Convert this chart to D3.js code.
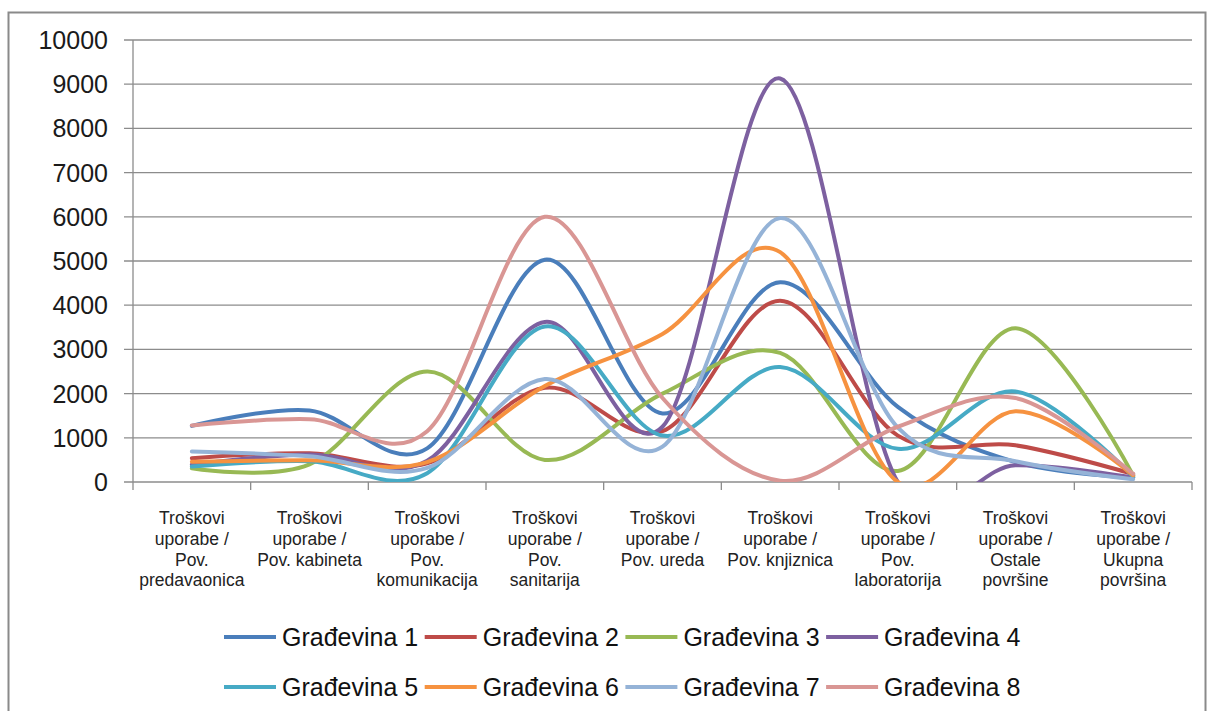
<!DOCTYPE html>
<html>
<head>
<meta charset="utf-8">
<script src="https://cdn.jsdelivr.net/npm/d3@7/dist/d3.min.js"></script>
<style>
  html, body { margin: 0; padding: 0; background: #fff; }
  svg { display: block; }
  text { font-family: "Liberation Sans", Arial, sans-serif; }
</style>
</head>
<body>
<svg id="chart" width="1208" height="711"></svg>
<script>
// ---- data ----
const categories = [
  ["Troškovi", "uporabe /", "Pov.", "predavaonica"],
  ["Troškovi", "uporabe /", "Pov. kabineta"],
  ["Troškovi", "uporabe /", "Pov.", "komunikacija"],
  ["Troškovi", "uporabe /", "Pov.", "sanitarija"],
  ["Troškovi", "uporabe /", "Pov. ureda"],
  ["Troškovi", "uporabe /", "Pov. knjiznica"],
  ["Troškovi", "uporabe /", "Pov.", "laboratorija"],
  ["Troškovi", "uporabe /", "Ostale", "površine"],
  ["Troškovi", "uporabe /", "Ukupna", "površina"]
];
const seriesNames = ["Građevina 1", "Građevina 2", "Građevina 3", "Građevina 4",
                     "Građevina 5", "Građevina 6", "Građevina 7", "Građevina 8"];
const gradevina1 = [1270, 1620, 760, 5030, 1550, 4520, 1700, 450, 100];
const gradevina2 = [540, 650, 420, 2130, 1150, 4100, 1050, 830, 180];
const gradevina3 = [310, 400, 2500, 500, 2000, 2920, 250, 3480, 150];
const gradevina4 = [390, 620, 480, 3620, 1250, 9130, 0, 380, 100];
const gradevina5 = [350, 470, 200, 3520, 1050, 2600, 750, 2050, 120];
const gradevina6 = [460, 490, 450, 2170, 3350, 5200, 0, 1600, 150];
const gradevina7 = [690, 580, 320, 2330, 800, 5970, 1230, 470, 60];
const gradevina8 = [1280, 1420, 1150, 6000, 1900, 30, 1250, 1900, 180];
const yTicks = [0, 1000, 2000, 3000, 4000, 5000, 6000, 7000, 8000, 9000, 10000];

const seriesValues = [gradevina1, gradevina2, gradevina3, gradevina4,
                      gradevina5, gradevina6, gradevina7, gradevina8];
const colors = ["#4A7EBB", "#BE4B48", "#98B954", "#7D60A0",
                "#46AAC5", "#F69240", "#95B3D7", "#D99694"];

// ---- layout ----
const svg = d3.select("#chart");
const plotL = 133, plotR = 1192, plotT = 40, plotB = 482;

// frame
svg.append("rect")
  .attr("x", 8.5).attr("y", 12.5).attr("width", 1197).attr("height", 720)
  .attr("fill", "none").attr("stroke", "#8a8a8a").attr("stroke-width", 2);

const catIdx = categories.map((d, i) => i);
const xBand = d3.scaleBand().domain(catIdx).range([plotL, plotR]).paddingInner(0).paddingOuter(0);
const x = d3.scalePoint().domain(catIdx).range([plotL, plotR]).padding(0.5);
const y = d3.scaleLinear().domain([0, 10000]).range([plotB, plotT]);

// gridlines + y ticks
svg.append("g").selectAll("line").data(yTicks).join("line")
  .attr("x1", plotL - 9).attr("x2", plotR)
  .attr("y1", d => y(d)).attr("y2", d => y(d))
  .attr("stroke", "#8c8c8c").attr("stroke-width", 1.3);

svg.append("g").selectAll("text").data(yTicks).join("text")
  .attr("x", 108).attr("y", d => y(d))
  .attr("dy", "0.36em")
  .attr("text-anchor", "end")
  .attr("font-size", 25)
  .attr("fill", "#1a1a1a")
  .text(d => d);

// y axis line
svg.append("line")
  .attr("x1", plotL).attr("x2", plotL).attr("y1", plotT).attr("y2", plotB)
  .attr("stroke", "#8c8c8c").attr("stroke-width", 1.3);

// x axis ticks at band boundaries
const boundaries = catIdx.map(i => xBand(i)).concat([xBand(catIdx[catIdx.length - 1]) + xBand.bandwidth()]);
svg.append("g").selectAll("line").data(boundaries).join("line")
  .attr("x1", d => d).attr("x2", d => d)
  .attr("y1", plotB).attr("y2", plotB + 8)
  .attr("stroke", "#8c8c8c").attr("stroke-width", 1.3);

// x labels
const xl = svg.append("g");
categories.forEach((lns, i) => {
  const t = xl.append("text")
    .attr("text-anchor", "middle")
    .attr("font-size", 17.5)
    .attr("fill", "#222");
  lns.forEach((ln, j) => {
    t.append("tspan").attr("x", x(i)).attr("y", 518 + j * 20.7).attr("dy", "0.36em").text(ln);
  });
});

// clip
svg.append("clipPath").attr("id", "plotclip")
  .append("rect").attr("x", plotL).attr("y", plotT - 5).attr("width", plotR - plotL).attr("height", plotB - plotT + 5);

const lineGen = d3.line()
  .x((d, i) => x(i))
  .y(d => y(d))
  .curve(d3.curveCardinal.tension(0));

const lg = svg.append("g").attr("clip-path", "url(#plotclip)");
seriesValues.forEach((vals, s) => {
  lg.append("path")
    .attr("d", lineGen(vals))
    .attr("fill", "none")
    .attr("stroke", colors[s])
    .attr("stroke-width", 4)
    .attr("stroke-linecap", "round")
    .attr("stroke-linejoin", "round");
});

// legend
const legend = svg.append("g");
seriesNames.forEach((name, s) => {
  const row = Math.floor(s / 4), col = s % 4;
  const tx = 282 + col * 200.7;
  const ty = 637 + row * 50;
  legend.append("line")
    .attr("x1", tx - 58).attr("x2", tx - 6)
    .attr("y1", ty).attr("y2", ty)
    .attr("stroke", colors[s]).attr("stroke-width", 4);
  legend.append("text")
    .attr("x", tx).attr("y", ty).attr("dy", "0.36em")
    .attr("font-size", 25).attr("fill", "#111")
    .text(name);
});
</script>
</body>
</html>
